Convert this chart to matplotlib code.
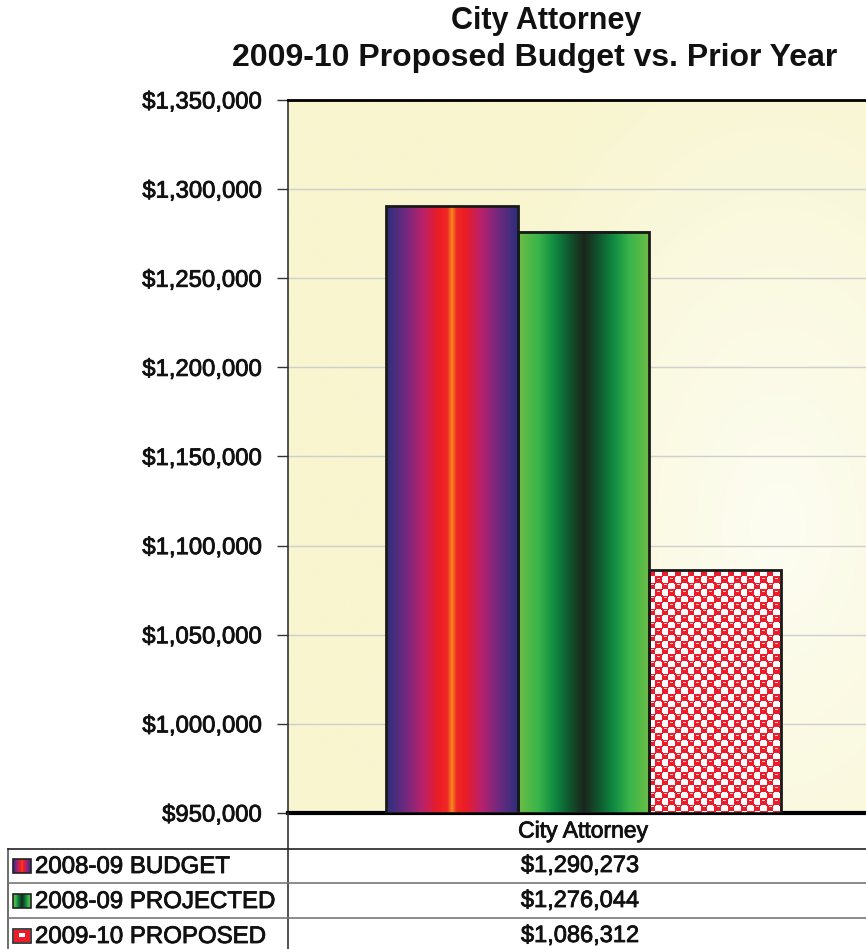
import numpy as np
import matplotlib.pyplot as plt
import matplotlib.patheffects as pe
from matplotlib.colors import LinearSegmentedColormap, to_rgb

plt.rcParams['font.family'] = ['Liberation Sans', 'DejaVu Sans']

# budget data
category = "City Attorney"
series = ["2008-09 BUDGET", "2008-09 PROJECTED", "2009-10 PROPOSED"]
values = [1290273, 1276044, 1086312]
yticks = [950000, 1000000, 1050000, 1100000, 1150000, 1200000, 1250000, 1300000, 1350000]

W, H = 866, 949
fig = plt.figure(figsize=(W / 100, H / 100), dpi=100)
heavy = [pe.withStroke(linewidth=0.6, foreground="#111111")]

# plot area runs past the right edge of the figure
ax = fig.add_axes([288 / W, 136 / H, 591 / W, 713 / H])
ax.set_ylim(950000, 1350000)
ax.set_xlim(-2.24, 2.24)

# pale yellow background with a soft light glow
gx, gy = np.meshgrid(np.linspace(0, 1, 300), np.linspace(0, 1, 300))
d = np.sqrt(((gx - 0.83) / 0.55) ** 2 + ((gy - 0.40) / 0.75) ** 2)
t = np.clip(d, 0, 1)[..., None]
inner = np.array(to_rgb("#fdfdf2"))
outer = np.array(to_rgb("#f8f5cf"))
bg = inner * (1 - t) + outer * t
ax.imshow(bg, extent=[0, 1, 0, 1], transform=ax.transAxes, origin="lower",
          aspect="auto", zorder=0)

ax.set_yticks(yticks)
ax.set_yticklabels(["${:,}".format(v) for v in yticks], fontsize=17.2, color="#111111")
for lab in ax.get_yticklabels():
    lab.set_path_effects(heavy)
ax.tick_params(axis="y", length=8, width=1, pad=11, color="#333333")
ax.set_xticks([])
for v in yticks[1:-1]:
    ax.axhline(v, color="#cfcfcf", lw=1, zorder=1)

ax.spines["left"].set_color("#333333")
ax.spines["left"].set_linewidth(1.2)
ax.spines["top"].set_linewidth(2)
ax.spines["bottom"].set_linewidth(3)
ax.spines["right"].set_visible(False)


def sym_gradient(stops, n=200):
    # stops go from the bar edge (0) to its centre (1), mirrored on both sides
    pos = [p / 2 for p, _ in stops] + [1 - p / 2 for p, _ in stops[::-1]]
    cols = [c for _, c in stops] + [c for _, c in stops[::-1]]
    pos[len(stops)] += 1e-6
    cmap = LinearSegmentedColormap.from_list("g", list(zip(pos, cols)))
    return cmap(np.linspace(0, 1, n))[None, :, :3]


purple_red = sym_gradient([(0.0, "#2c2f7c"), (0.3, "#73297f"), (0.55, "#b8216c"),
                           (0.8, "#ec1c24"), (0.93, "#ee2a24"), (1.0, "#f6881f")])
green = sym_gradient([(0.0, "#6dbd45"), (0.3, "#3ab54a"), (0.55, "#0f8a42"),
                      (0.8, "#11512c"), (1.0, "#1c261c")])


def checker(h, w, s=6.5):
    # red/white checkerboard with a light dash near the top of each red cell
    yy, xx = np.mgrid[0:h, 0:w] + 0.5
    img = np.ones((h, w, 3))
    cy, cx = np.floor(yy / s), np.floor(xx / s)
    dy, dx = yy - cy * s, xx - cx * s
    red = ((cy + cx) % 2 == 0)
    # small red bridges at the cell corners give the blobs a rounded look
    corner = (~red) & (np.minimum(dy, s - dy) < 1.0) & (np.minimum(dx, s - dx) < 1.0)
    img[red | corner] = to_rgb("#ec1c2a")
    hl = red & (dy > 1.2) & (dy < 2.4) & (dx > 1.8) & (dx < 4.8)
    img[hl] = to_rgb("#fbd0d2")
    return img


positions = [-1, 0, 1]
bars = ax.bar(positions, [v - 950000 for v in values], width=1, bottom=950000,
              facecolor="none", edgecolor="#1a1a1a", linewidth=2, zorder=4)
fills = [purple_red, green, None]
for b, f in zip(bars, fills):
    x0, x1 = b.get_x(), b.get_x() + b.get_width()
    y0, y1 = b.get_y(), b.get_y() + b.get_height()
    if f is None:
        disp = ax.transData.transform([[x0, y0], [x1, y1]])
        pw, ph = np.abs(disp[1] - disp[0]).astype(int)
        f = checker(ph, pw)
        ax.imshow(f, extent=[x0, x1, y0, y1], aspect="auto", origin="upper",
                  interpolation="nearest", zorder=3)
    else:
        ax.imshow(f, extent=[x0, x1, y0, y1], aspect="auto", zorder=3)
ax.set_xlim(-2.24, 2.24)
ax.set_ylim(950000, 1350000)

fig.text(546 / W, 1 - 21 / H, "City Attorney", ha="center", va="center",
         fontsize=22, fontweight="bold", color="#111111")
fig.text(535 / W, 1 - 58 / H, "2009-10 Proposed Budget vs. Prior Year",
         ha="center", va="center", fontsize=23, fontweight="bold", color="#111111")

# data table under the chart, laid out in pixel coordinates
tab = fig.add_axes([0, 0, 1, 1], zorder=5)
tab.set_xlim(0, W)
tab.set_ylim(H, 0)
tab.axis("off")
tab.plot([288, 288], [813, H], color="#333333", lw=1.2)
tab.plot([8, 8], [849, H], color="#555555", lw=1.2)
for yl, c in zip([849, 883, 918], ["#222222", "#777777", "#777777"]):
    tab.plot([8, W], [yl, yl], color=c, lw=1.2)
tab.text(583, 831, category, ha="center", va="center", fontsize=16.5,
         color="#111111", path_effects=heavy)

keys = [purple_red, green, None]
for i, (name, v, k) in enumerate(zip(series, values, keys)):
    yc = 866 + 35 * i
    tab.text(35, yc + 1, name, ha="left", va="center", fontsize=17.3,
             color="#111111", path_effects=heavy)
    tab.text(580, yc, "${:,}".format(v), ha="center", va="center", fontsize=17,
             color="#111111", path_effects=heavy)
    if k is None:
        k = np.ones((14, 18, 3))
        k[1:-1, 1:-1] = to_rgb("#ec1c2a")
        k[4:8, 6:12] = 1.0
    tab.imshow(k, extent=[13, 31, yc + 7, yc - 7], aspect="auto",
               interpolation="nearest", zorder=3)
    tab.add_patch(plt.Rectangle((13, yc - 7), 18, 14, fill=False,
                                edgecolor="#222222", lw=1.2, zorder=4))
tab.set_xlim(0, W)
tab.set_ylim(H, 0)

fig.savefig("out.png", dpi=100)
